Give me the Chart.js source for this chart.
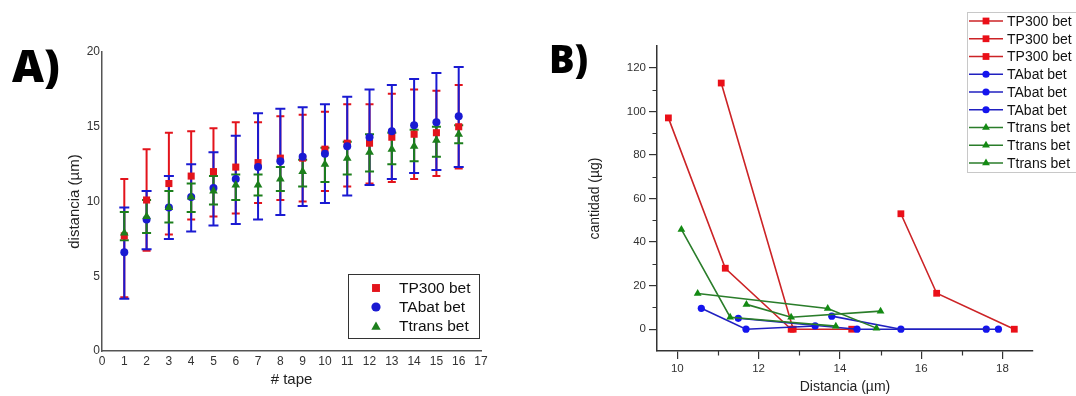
<!DOCTYPE html>
<html><head><meta charset="utf-8">
<script src="https://cdn.jsdelivr.net/npm/chart.js@4.4.1/dist/chart.umd.min.js"></script>
<style>
html,body{margin:0;padding:0;background:#fff;overflow:hidden;}
#wrap{position:relative;width:1076px;height:396px;background:#fff;}
canvas{position:absolute;top:0;}
#cA{left:0}
#cB{left:538px}
.lbl{position:absolute;font-family:"Open Sans","Liberation Sans",sans-serif;font-weight:800;line-height:1;color:#000;}
</style></head>
<body><div id="wrap">
<canvas id="cA" width="538" height="396"></canvas>
<canvas id="cB" width="538" height="396"></canvas>
<div class="lbl" style="left:12px;top:43px;font-size:44px">A)</div>
<div class="lbl" style="left:549px;top:39px;font-size:38px">B)</div>
</div>
<script>
// ---------- Panel A data ----------
const tapes = [1,2,3,4,5,6,7,8,9,10,11,12,13,14,15,16];
const tp300Mean = [7.7,10.1,11.2,11.7,12.0,12.3,12.6,12.9,12.9,13.5,13.9,13.9,14.3,14.5,14.6,15.0];
const tp300Hi   = [11.5,13.5,14.6,14.7,14.9,15.3,15.3,15.7,15.8,16.0,16.5,16.5,17.2,17.5,17.4,17.8];
const tp300Lo   = [3.6,6.7,7.8,8.8,9.0,9.2,9.9,10.1,10.0,10.7,11.0,11.2,11.3,11.5,11.7,12.2];
const tabatMean = [6.6,8.8,9.6,10.3,10.9,11.5,12.3,12.7,13.0,13.2,13.7,14.3,14.7,15.1,15.3,15.7];
const tabatHi   = [9.6,10.7,11.7,12.5,13.3,14.4,15.9,16.2,16.3,16.5,17.0,17.5,17.8,18.2,18.6,19.0];
const tabatLo   = [3.5,6.8,7.5,8.0,8.4,8.5,8.8,9.1,9.7,9.9,10.4,11.1,11.5,11.9,12.1,12.3];
const ttransMean = [7.9,9.0,9.6,10.3,10.7,11.1,11.1,11.5,12.0,12.5,12.9,13.3,13.5,13.7,14.1,14.5];
const ttransHi   = [9.3,10.1,10.7,11.2,11.7,11.8,11.8,12.3,12.8,13.6,14.0,14.5,14.6,14.8,15.0,15.1];
const ttransLo   = [7.4,7.9,8.6,9.3,9.8,10.1,10.4,10.7,11.0,11.3,11.8,12.0,12.5,12.7,13.0,13.9];
const seriesNames = ['TP300 bet','TAbat bet','Ttrans bet'];
const yTicksA = [0,5,10,15,20];

// ---------- Panel B data ----------
const tp300R1X = [9.78,11.18,12.8];   const tp300R1Y = [97,28,0];
const tp300R2X = [11.08,12.85,14.29]; const tp300R2Y = [113,0,0];
const tp300R3X = [15.5,16.38,18.29];  const tp300R3Y = [53,16.5,0];
const tabatR1X = [10.59,11.69,13.39]; const tabatR1Y = [9.6,0,1.5];
const tabatR2X = [11.5,14.42,17.9];   const tabatR2Y = [5,0,0];
const tabatR3X = [13.8,15.5,17.6];    const tabatR3Y = [6,0,0];
const ttransR1X = [10.1,11.3,13.9];   const ttransR1Y = [45.8,5.5,1.4];
const ttransR2X = [10.5,13.7,14.9];   const ttransR2Y = [16.4,9.5,0.5];
const ttransR3X = [11.7,12.8,15.0];   const ttransR3Y = [11.4,5.5,8.3];
const xTicksB = [10,12,14,16,18];
const yTicksB = [0,20,40,60,80,100,120];
const xMinorB = [11,13,15,17];
const yMinorB = [10,30,50,70,90,110];

const FONT = '"Liberation Sans", Arial, sans-serif';
Chart.defaults.font.family = FONT;

const RED = '#e3141c', BLUE = '#1a1ad2', GREEN = '#1c7f1c';

function drawMarker(ctx, style, x, y, r, color){
  ctx.fillStyle = color;
  ctx.beginPath();
  if (style === 'rect') {
    const s = r * Math.SQRT1_2;
    ctx.rect(x - s, y - s, 2*s, 2*s);
  } else if (style === 'circle') {
    ctx.arc(x, y, r, 0, Math.PI*2);
  } else {
    ctx.moveTo(x, y - r);
    ctx.lineTo(x + r*0.866, y + r*0.5);
    ctx.lineTo(x - r*0.866, y + r*0.5);
    ctx.closePath();
  }
  ctx.fill();
}

// error bars, drawn through the chart's own scales
const errBars = [
  {hi: tp300Hi, lo: tp300Lo, color: RED, cap: 4},
  {hi: tabatHi, lo: tabatLo, color: BLUE, cap: 5},
  {hi: ttransHi, lo: ttransLo, color: GREEN, cap: 4.5}
];
const errorBarPlugin = {
  id: 'errbars',
  beforeDatasetsDraw(chart){
    const {ctx, scales:{x, y}} = chart;
    ctx.save();
    ctx.lineWidth = 2;
    errBars.forEach(b => {
      ctx.strokeStyle = b.color;
      tapes.forEach((t, i) => {
        const px = x.getPixelForValue(t);
        const yh = y.getPixelForValue(b.hi[i]);
        const yl = y.getPixelForValue(b.lo[i]);
        ctx.beginPath();
        ctx.moveTo(px, yh); ctx.lineTo(px, yl);
        ctx.moveTo(px - b.cap, yh); ctx.lineTo(px + b.cap, yh);
        ctx.moveTo(px - b.cap, yl); ctx.lineTo(px + b.cap, yl);
        ctx.stroke();
      });
    });
    ctx.restore();
  }
};

const legendAPlugin = {
  id: 'legendA',
  afterDraw(chart){
    const {ctx, chartArea:ca} = chart;
    const right = ca.right - 2, bottom = ca.bottom - 13;
    const w = 131, h = 64;
    const left = right - w, top = bottom - h;
    ctx.save();
    ctx.fillStyle = '#fff';
    ctx.fillRect(left, top, w, h);
    ctx.strokeStyle = '#333'; ctx.lineWidth = 1;
    ctx.strokeRect(left + 0.5, top + 0.5, w, h);
    const styles = ['rect','circle','triangle'], cols = [RED, BLUE, GREEN], rs = [5.6, 4.6, 5.4];
    ctx.font = '15.5px ' + FONT;
    ctx.textBaseline = 'middle';
    seriesNames.forEach((n, i) => {
      const yy = top + 14 + i*19;
      drawMarker(ctx, styles[i], left + 28, yy + (i===2 ? 1 : 0), rs[i], cols[i]);
      ctx.fillStyle = '#111';
      ctx.fillText(n, left + 51, yy + 1);
    });
    ctx.restore();
  }
};

new Chart(document.getElementById('cA'), {
  type: 'scatter',
  data: { datasets: [
    {label: seriesNames[0], data: tapes.map((t,i)=>({x:t, y:tp300Mean[i]})), pointStyle:'rect', pointRadius:5, pointBorderWidth:0, backgroundColor:RED, borderColor:RED, order:3},
    {label: seriesNames[1], data: tapes.map((t,i)=>({x:t, y:tabatMean[i]})), pointStyle:'circle', pointRadius:4, pointBorderWidth:0, backgroundColor:BLUE, borderColor:BLUE, order:2},
    {label: seriesNames[2], data: tapes.map((t,i)=>({x:t, y:ttransMean[i]})), pointStyle:'triangle', pointRadius:5, pointBorderWidth:0, backgroundColor:GREEN, borderColor:GREEN, order:1}
  ]},
  options: {
    responsive:false, animation:false, events:[],
    layout:{padding:{left:62, right:57, top:52, bottom:3}},
    plugins:{legend:{display:false}, tooltip:{enabled:false}},
    scales:{
      x:{type:'linear', min:0, max:17,
         ticks:{stepSize:1, autoSkip:false, maxRotation:0, padding:3, color:'#333', font:{size:12}},
         grid:{display:false, drawTicks:false, tickLength:0}, border:{color:'#555', width:1.5},
         title:{display:true, text:'# tape', color:'#222', font:{size:15}},
         afterFit(s){ s.height = 42; }},
      y:{type:'linear', min:0, max:20,
         afterBuildTicks(s){ s.ticks = yTicksA.map(v=>({value:v})); },
         ticks:{padding:2, color:'#333', font:{size:12}},
         grid:{display:false, drawTicks:false, tickLength:0}, border:{color:'#555', width:1.5},
         title:{display:true, text:'distancia (µm)', color:'#222', font:{size:15}},
         afterFit(s){ s.width = 40; }}
    }
  },
  plugins:[errorBarPlugin, legendAPlugin]
});

// ---------- Panel B ----------
const RED_L = '#cc2326', BLUE_L = '#2020c0', GREEN_L = '#2a7d2a';
const RED_M = '#ea0f18', BLUE_M = '#1414ee', GREEN_M = '#138a13';
function pts(xs, ys){ return xs.map((x,i)=>({x, y:ys[i]})); }
const bSeries = [
  {n:'TP300 bet', d:pts(tp300R1X,tp300R1Y), s:'rect', l:RED_L, m:RED_M, r:4.8, o:3},
  {n:'TP300 bet', d:pts(tp300R2X,tp300R2Y), s:'rect', l:RED_L, m:RED_M, r:4.8, o:3},
  {n:'TP300 bet', d:pts(tp300R3X,tp300R3Y), s:'rect', l:RED_L, m:RED_M, r:4.8, o:3},
  {n:'TAbat bet', d:pts(tabatR1X,tabatR1Y), s:'circle', l:BLUE_L, m:BLUE_M, r:3.6, o:2},
  {n:'TAbat bet', d:pts(tabatR2X,tabatR2Y), s:'circle', l:BLUE_L, m:BLUE_M, r:3.6, o:2},
  {n:'TAbat bet', d:pts(tabatR3X,tabatR3Y), s:'circle', l:BLUE_L, m:BLUE_M, r:3.6, o:2},
  {n:'Ttrans bet', d:pts(ttransR1X,ttransR1Y), s:'triangle', l:GREEN_L, m:GREEN_M, r:4.5, o:1},
  {n:'Ttrans bet', d:pts(ttransR2X,ttransR2Y), s:'triangle', l:GREEN_L, m:GREEN_M, r:4.5, o:1},
  {n:'Ttrans bet', d:pts(ttransR3X,ttransR3Y), s:'triangle', l:GREEN_L, m:GREEN_M, r:4.5, o:1}
];

const minorTickPlugin = {
  id: 'minorTicks',
  afterDraw(chart){
    const {ctx, scales:{x, y}} = chart;
    ctx.save();
    ctx.strokeStyle = '#333'; ctx.lineWidth = 1.2;
    ctx.beginPath();
    yMinorB.forEach(v => { const py = Math.round(y.getPixelForValue(v)) + 0.5; ctx.moveTo(x.left - 4.5, py); ctx.lineTo(x.left, py); });
    xMinorB.forEach(v => { const px = Math.round(x.getPixelForValue(v)) + 0.5; ctx.moveTo(px, y.bottom); ctx.lineTo(px, y.bottom + 4.5); });
    ctx.stroke();
    ctx.restore();
  }
};

const legendBPlugin = {
  id: 'legendB',
  afterDraw(chart){
    const {ctx} = chart;
    const left = 429, top = 12, bottom = 172;
    ctx.save();
    ctx.fillStyle = '#fff';
    ctx.fillRect(left, top, 120, bottom - top);
    ctx.strokeStyle = '#c8c8c8'; ctx.lineWidth = 1;
    ctx.strokeRect(left + 0.5, top + 0.5, 130, bottom - top);
    ctx.font = '14px ' + FONT;
    ctx.textBaseline = 'middle';
    bSeries.forEach((s, i) => {
      const yy = 21 + i*17.75;
      ctx.strokeStyle = s.l; ctx.lineWidth = 1.6;
      ctx.beginPath(); ctx.moveTo(left + 2, yy); ctx.lineTo(left + 36, yy); ctx.stroke();
      drawMarker(ctx, s.s, left + 19, yy, s.r, s.m);
      ctx.fillStyle = '#111';
      ctx.fillText(s.n, left + 40, yy + 1);
    });
    ctx.restore();
  }
};

new Chart(document.getElementById('cB'), {
  type: 'scatter',
  data: { datasets: bSeries.map(s => ({
    label: s.n, data: s.d, showLine:true, borderColor:s.l, borderWidth:1.6,
    pointStyle:s.s, pointRadius:s.r, pointBorderWidth:0, pointBackgroundColor:s.m, backgroundColor:s.m, order:s.o
  }))},
  options: {
    responsive:false, animation:false, events:[],
    layout:{padding:{left:45, right:43, top:46, bottom:0}},
    plugins:{legend:{display:false}, tooltip:{enabled:false}},
    scales:{
      x:{type:'linear', min:9.5, max:18.75,
         afterBuildTicks(s){ s.ticks = xTicksB.map(v=>({value:v})); },
         ticks:{autoSkip:false, maxRotation:0, padding:3, color:'#333', font:{size:11.5}},
         grid:{display:true, drawOnChartArea:false, drawTicks:true, tickLength:8, color:'#333', lineWidth:1.2},
         border:{color:'#333', width:1.5},
         title:{display:true, text:'Distancia (µm)', color:'#222', font:{size:14}, padding:{top:4, bottom:0}},
         afterFit(s){ s.height = 45; }},
      y:{type:'linear', min:-10, max:130,
         afterBuildTicks(s){ s.ticks = yTicksB.map(v=>({value:v})); },
         ticks:{padding:3, color:'#333', font:{size:11.5}},
         grid:{display:true, drawOnChartArea:false, drawTicks:true, tickLength:8, color:'#333', lineWidth:1.2},
         border:{color:'#333', width:1.5},
         title:{display:true, text:'cantidad (µg)', color:'#222', font:{size:14}},
         afterFit(s){ s.width = 74; }}
    }
  },
  plugins:[minorTickPlugin, legendBPlugin]
});
</script>
</body></html>
